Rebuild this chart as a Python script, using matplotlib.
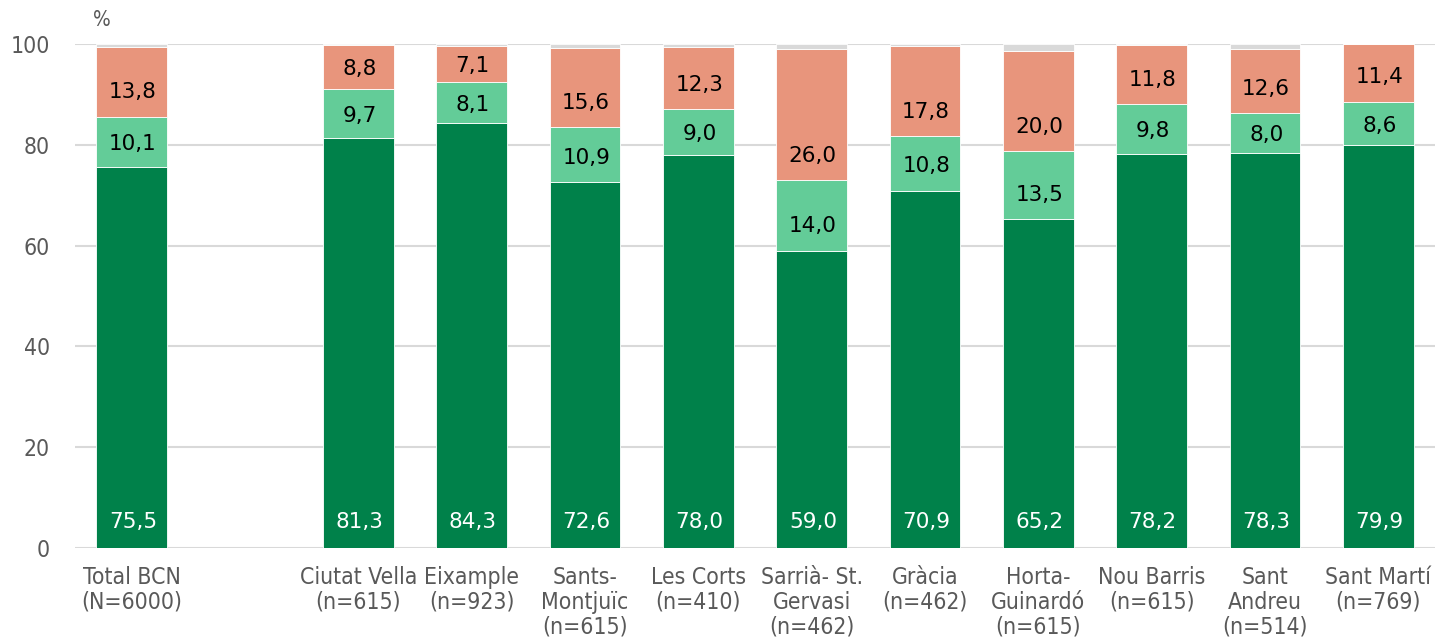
import matplotlib.pyplot as plt
import numpy as np
from matplotlib import font_manager
from matplotlib.font_manager import FontProperties

# districts with sample size; an empty slot separates the city total
categories = ["Total BCN\n(N=6000)", "",
              "Ciutat Vella\n(n=615)", "Eixample\n(n=923)", "Sants-\nMontjuïc\n(n=615)",
              "Les Corts\n(n=410)", "Sarrià- St.\nGervasi\n(n=462)", "Gràcia\n(n=462)",
              "Horta-\nGuinardó\n(n=615)", "Nou Barris\n(n=615)", "Sant\nAndreu\n(n=514)",
              "Sant Martí\n(n=769)"]
dark_vals = [75.5, np.nan, 81.3, 84.3, 72.6, 78.0, 59.0, 70.9, 65.2, 78.2, 78.3, 79.9]
light_vals = [10.1, np.nan, 9.7, 8.1, 10.9, 9.0, 14.0, 10.8, 13.5, 9.8, 8.0, 8.6]
salmon_vals = [13.8, np.nan, 8.8, 7.1, 15.6, 12.3, 26.0, 17.8, 20.0, 11.8, 12.6, 11.4]

DARK = "#00814A"
LIGHT = "#63CC98"
SALMON = "#E8957C"
REST = "#D9D9D9"
GREY_TXT = "#595959"


def narrow_font(size):
    # pick a condensed face if the system has one
    cands = []
    for f in font_manager.fontManager.ttflist:
        if f.style != "normal" or f.weight not in (400, "normal", "regular"):
            continue
        stretch = str(f.stretch).lower()
        if "condensed" in stretch or "narrow" in f.name.lower() or "condensed" in f.name.lower():
            if "semi" in stretch or "extra" in stretch or "ultra" in stretch:
                continue
            cands.append(f)
    if cands:
        cands.sort(key=lambda f: ("Liberation" not in f.name, "DejaVu Sans" != f.name, f.name))
        return FontProperties(fname=cands[0].fname, size=size)
    return FontProperties(family="DejaVu Sans", stretch="condensed", size=size)


dark = np.array(dark_vals)
light = np.array(light_vals)
salmon = np.array(salmon_vals)
rest = 100 - (dark + light + salmon)

fig = plt.figure(figsize=(14.35, 6.37), dpi=100)
ax = fig.add_axes([0.0523, 0.1397, 0.9477, 0.7913])

x = np.arange(len(categories))
w = 0.625
kw = dict(width=w, edgecolor="white", linewidth=0.6)
ax.bar(x, dark, color=DARK, **kw)
ax.bar(x, light, bottom=dark, color=LIGHT, **kw)
ax.bar(x, salmon, bottom=dark + light, color=SALMON, **kw)
ax.bar(x, rest, bottom=dark + light + salmon, color=REST, **kw)

# labels sit near the base of each segment
lab_font = dict(fontsize=15.5, family="DejaVu Sans", ha="center", va="center")
for i in x:
    if np.isnan(dark[i]):
        continue
    segs = [(0, dark[i], "white", 5.2), (dark[i], light[i], "black", 4.85),
            (dark[i] + light[i], salmon[i], "black", 4.85)]
    for base, h, col, off in segs:
        y = base + min(off, h / 2 - 0.4)
        ax.text(i + 0.01, y, f"{h:.1f}".replace(".", ","), color=col, **lab_font)

ax.set_xlim(-0.5, len(categories) - 0.5)
ax.set_ylim(0, 100)
ax.set_yticks(range(0, 101, 20))
ax.set_xticks(x)
ax.set_xticklabels(categories, fontproperties=narrow_font(16.5), color=GREY_TXT,
                   linespacing=1.1)
ax.tick_params(axis="y", labelsize=16, labelcolor=GREY_TXT, length=0, pad=18)
ax.tick_params(axis="x", length=0, pad=13)
for lbl in ax.get_yticklabels():
    lbl.set_fontproperties(narrow_font(16.5))

ax.grid(axis="y", color="#D9D9D9", linewidth=1.5)
ax.set_axisbelow(True)
for s in ax.spines.values():
    s.set_visible(False)

fig.text(0.065, 0.968, "%", fontproperties=narrow_font(15), color=GREY_TXT,
         ha="left", va="center")

fig.savefig("out.png", dpi=100)
